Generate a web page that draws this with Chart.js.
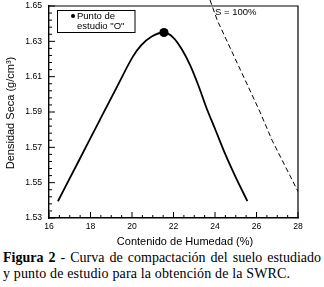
<!DOCTYPE html>
<html><head><meta charset="utf-8">
<script src="https://cdn.jsdelivr.net/npm/chart.js@4/dist/chart.umd.min.js"></script>
<style>
html,body{margin:0;padding:0;background:#fff;}
#wrap{position:absolute;left:0;top:0;width:324px;height:250px;}
.cap{position:absolute;left:3px;width:318px;font-family:"Liberation Serif";font-size:14px;line-height:16px;color:#000;}
#c1{top:250px;text-align:justify;text-align-last:justify;}
#c2{top:266px;white-space:nowrap;letter-spacing:0.15px;}
</style></head><body>
<div id="wrap"><canvas id="chart" width="324" height="250"></canvas></div>
<div class="cap" id="c1"><b>Figura 2</b> - Curva de compactación del suelo estudiado</div>
<div class="cap" id="c2">y punto de estudio para la obtención de la SWRC.</div>
<script>
// ---- data ----
const moisture = [16.43, 17.5, 18.44, 19.3, 20.05, 20.45, 20.93, 21.54, 22.0, 22.4, 22.8, 23.2, 23.6, 24.0, 24.5, 25.0, 25.56];
const density  = [1.5395, 1.5638, 1.5853, 1.6048, 1.6215, 1.6278, 1.6326, 1.635, 1.632, 1.6255, 1.6165, 1.605, 1.592, 1.5805, 1.566, 1.553, 1.5396];
const studyMoisture = [21.54];
const studyDensity  = [1.635];
const satMoisture = [23.76, 24.11, 26.17, 26.75, 28.0];
const satDensity  = [1.6534, 1.6419, 1.590, 1.574, 1.545];
const xTicks = [16, 18, 20, 22, 24, 26, 28];
const yTicks = [1.53, 1.55, 1.57, 1.59, 1.61, 1.63, 1.65];
const xTitle = 'Contenido de Humedad (%)';
const yTitle = 'Densidad Seca (g/cm³)';
const legendLines = ['Punto de', 'estudio "O"'];
const satLabel = 'S = 100%';

const toXY = (xs, ys) => xs.map((x, i) => ({x: x, y: ys[i]}));

const decor = {
  id: 'decor',
  afterDraw(chart) {
    const ctx = chart.ctx, a = chart.chartArea;
    const xs = chart.scales.x, ys = chart.scales.y;
    ctx.save();
    ctx.strokeStyle = '#000';
    ctx.lineWidth = 1.2;
    ctx.beginPath();
    ctx.moveTo(a.left, a.top); ctx.lineTo(a.right, a.top); ctx.lineTo(a.right, a.bottom);
    ctx.stroke();
    ctx.lineWidth = 1;
    ctx.beginPath();
    for (let i = 0; i < xTicks.length; i++) {
      const px = xs.getPixelForValue(xTicks[i]);
      ctx.moveTo(px, a.bottom); ctx.lineTo(px, a.bottom - 6);
      if (i < xTicks.length - 1) {
        const step = (xTicks[i + 1] - xTicks[i]) / 4;
        for (let k = 1; k < 4; k++) {
          const mx = xs.getPixelForValue(xTicks[i] + k * step);
          ctx.moveTo(mx, a.bottom); ctx.lineTo(mx, a.bottom - 3);
        }
      }
    }
    for (let i = 0; i < yTicks.length; i++) {
      const py = ys.getPixelForValue(yTicks[i]);
      ctx.moveTo(a.left, py); ctx.lineTo(a.left + 6, py);
      if (i < yTicks.length - 1) {
        const step = (yTicks[i + 1] - yTicks[i]) / 5;
        for (let k = 1; k < 5; k++) {
          const my = ys.getPixelForValue(yTicks[i] + k * step);
          ctx.moveTo(a.left, my); ctx.lineTo(a.left + 3, my);
        }
      }
    }
    ctx.stroke();
    ctx.lineWidth = 1;
    ctx.strokeRect(57.5, 10.5, 77.5, 22);
    ctx.fillStyle = '#000';
    ctx.beginPath(); ctx.arc(73, 16, 2, 0, Math.PI * 2); ctx.fill();
    ctx.font = '9.5px "Liberation Sans"';
    ctx.textBaseline = 'middle';
    ctx.textAlign = 'left';
    ctx.fillText(legendLines[0], 77, 16);
    ctx.fillText(legendLines[1], 77, 26.5);
    ctx.fillText(satLabel, 215, 12.5);
    ctx.font = '11px "Liberation Sans"';
    ctx.textAlign = 'center';
    ctx.fillText(xTitle, 185, 242);
    ctx.translate(10.5, 113);
    ctx.rotate(-Math.PI / 2);
    ctx.fillText(yTitle, 0, 0);
    ctx.restore();
  }
};

new Chart(document.getElementById('chart'), {
  type: 'scatter',
  data: {
    datasets: [
      {
        data: toXY(studyMoisture, studyDensity),
        showLine: false, pointRadius: 4.6, pointBackgroundColor: '#000', pointBorderColor: '#000', pointBorderWidth: 0
      },
      {
        data: toXY(moisture, density),
        showLine: true, borderColor: '#000', borderWidth: 1.8, pointRadius: 0,
        cubicInterpolationMode: 'monotone'
      },
      {
        data: toXY(satMoisture, satDensity),
        showLine: true, borderColor: '#000', borderWidth: 1, borderDash: [5, 3], pointRadius: 0,
        tension: 0, clip: {left: 0, top: 8, right: 0, bottom: 0}
      }
    ]
  },
  options: {
    responsive: false,
    animation: false,
    devicePixelRatio: 1,
    layout: {padding: {top: 6, right: 26, left: 0, bottom: 0}},
    plugins: {legend: {display: false}, tooltip: {enabled: false}},
    scales: {
      x: {
        type: 'linear', min: 16, max: 28,
        grid: {display: false, drawTicks: false},
        border: {display: true, color: '#000', width: 1.4},
        ticks: {color: '#000', font: {family: 'Liberation Sans', size: 8.6}, padding: 3, maxRotation: 0,
                callback: v => String(v)},
        afterBuildTicks: s => { s.ticks = xTicks.map(v => ({value: v})); },
        afterFit: s => { s.height = 32; s.paddingLeft = 0; s.paddingRight = 0; }
      },
      y: {
        type: 'linear', min: 1.53, max: 1.65,
        grid: {display: false, drawTicks: false},
        border: {display: true, color: '#000', width: 1.4},
        ticks: {color: '#000', font: {family: 'Liberation Sans', size: 8.6}, padding: 7,
                callback: v => Number(v).toFixed(2)},
        afterBuildTicks: s => { s.ticks = yTicks.map(v => ({value: v})); },
        afterFit: s => { s.width = 49; s.paddingTop = 0; s.paddingBottom = 0; }
      }
    }
  },
  plugins: [decor]
});
</script>
</body></html>
